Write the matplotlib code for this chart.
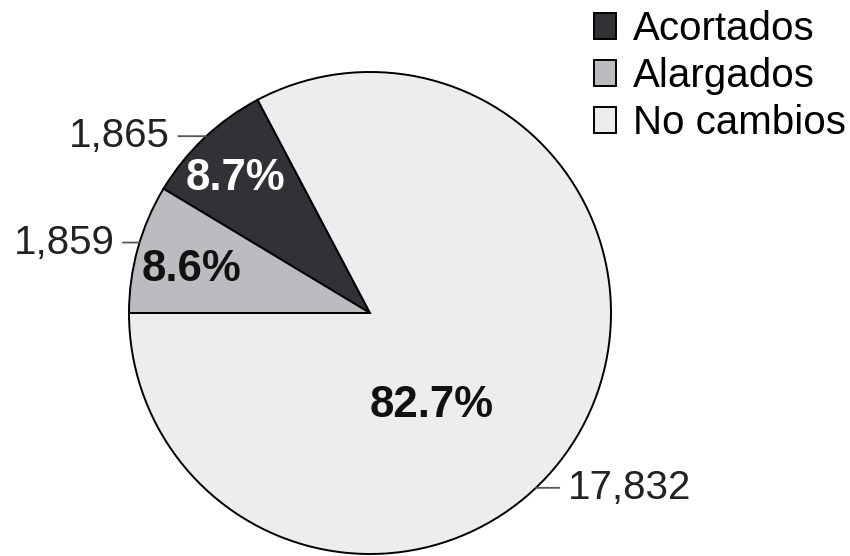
import numpy as np
import matplotlib
matplotlib.use("Agg")
import matplotlib.pyplot as plt

categories = ["Acortados", "Alargados", "No cambios"]
counts = [1865, 1859, 17832]
colors = ["#333136", "#bbbcc0", "#ededef"]
pct_colors = ["white", "#111111", "#111111"]

plt.rcParams['font.family'] = ['Liberation Sans', 'DejaVu Sans']
plt.rcParams['font.size'] = 29

fig = plt.figure(figsize=(8.5, 5.56), dpi=100)
# pie centre at (370, 243) px from bottom-left, radius 241 px
ax = fig.add_axes([129 / 850, 2 / 556, 482 / 850, 482 / 556])

total = sum(counts)
span = 360 * (counts[0] + counts[1]) / total
wedges, _ = ax.pie(counts, colors=colors, startangle=180 - span, counterclock=True,
                   radius=1, center=(0, 0), frame=True,
                   wedgeprops=dict(edgecolor='black', linewidth=1.4))
ax.set_xlim(-1, 1)
ax.set_ylim(-1, 1)
ax.set_aspect('equal')
ax.axis('off')

# percentage labels inside the slices
pct_pos = [(-0.56, 0.56), (-0.74, 0.18), (0.255, -0.385)]
for n, (x, y), c in zip(counts, pct_pos, pct_colors):
    ax.text(x, y, "{:.1f}%".format(100 * n / total), ha='center', va='center',
            fontweight='bold', color=c, fontsize=31.5)

# count labels with short leader lines
leader_angles = [132.8, 163.0, -46.5]
text_x = [-0.83, -1.06, 0.82]
aligns = ['right', 'right', 'left']
for n, ang, tx, ha in zip(counts, leader_angles, text_x, aligns):
    ex, ey = np.cos(np.radians(ang)), np.sin(np.radians(ang))
    ax.annotate("{:,}".format(n), xy=(ex, ey), xytext=(tx, ey), ha=ha, va='center',
                color='#222222', fontsize=29, annotation_clip=False,
                arrowprops=dict(arrowstyle='-', color='#555555', lw=1.3,
                                shrinkA=4, shrinkB=0))

fig.legend(wedges, categories, loc='upper left', bbox_to_anchor=(594 / 850, 1 - 10 / 556),
           frameon=False, handlelength=0.55, handleheight=0.6, handletextpad=0.42,
           labelspacing=0.225, borderpad=0.0, borderaxespad=0.0, fontsize=29)

fig.savefig("out.png", dpi=100)
